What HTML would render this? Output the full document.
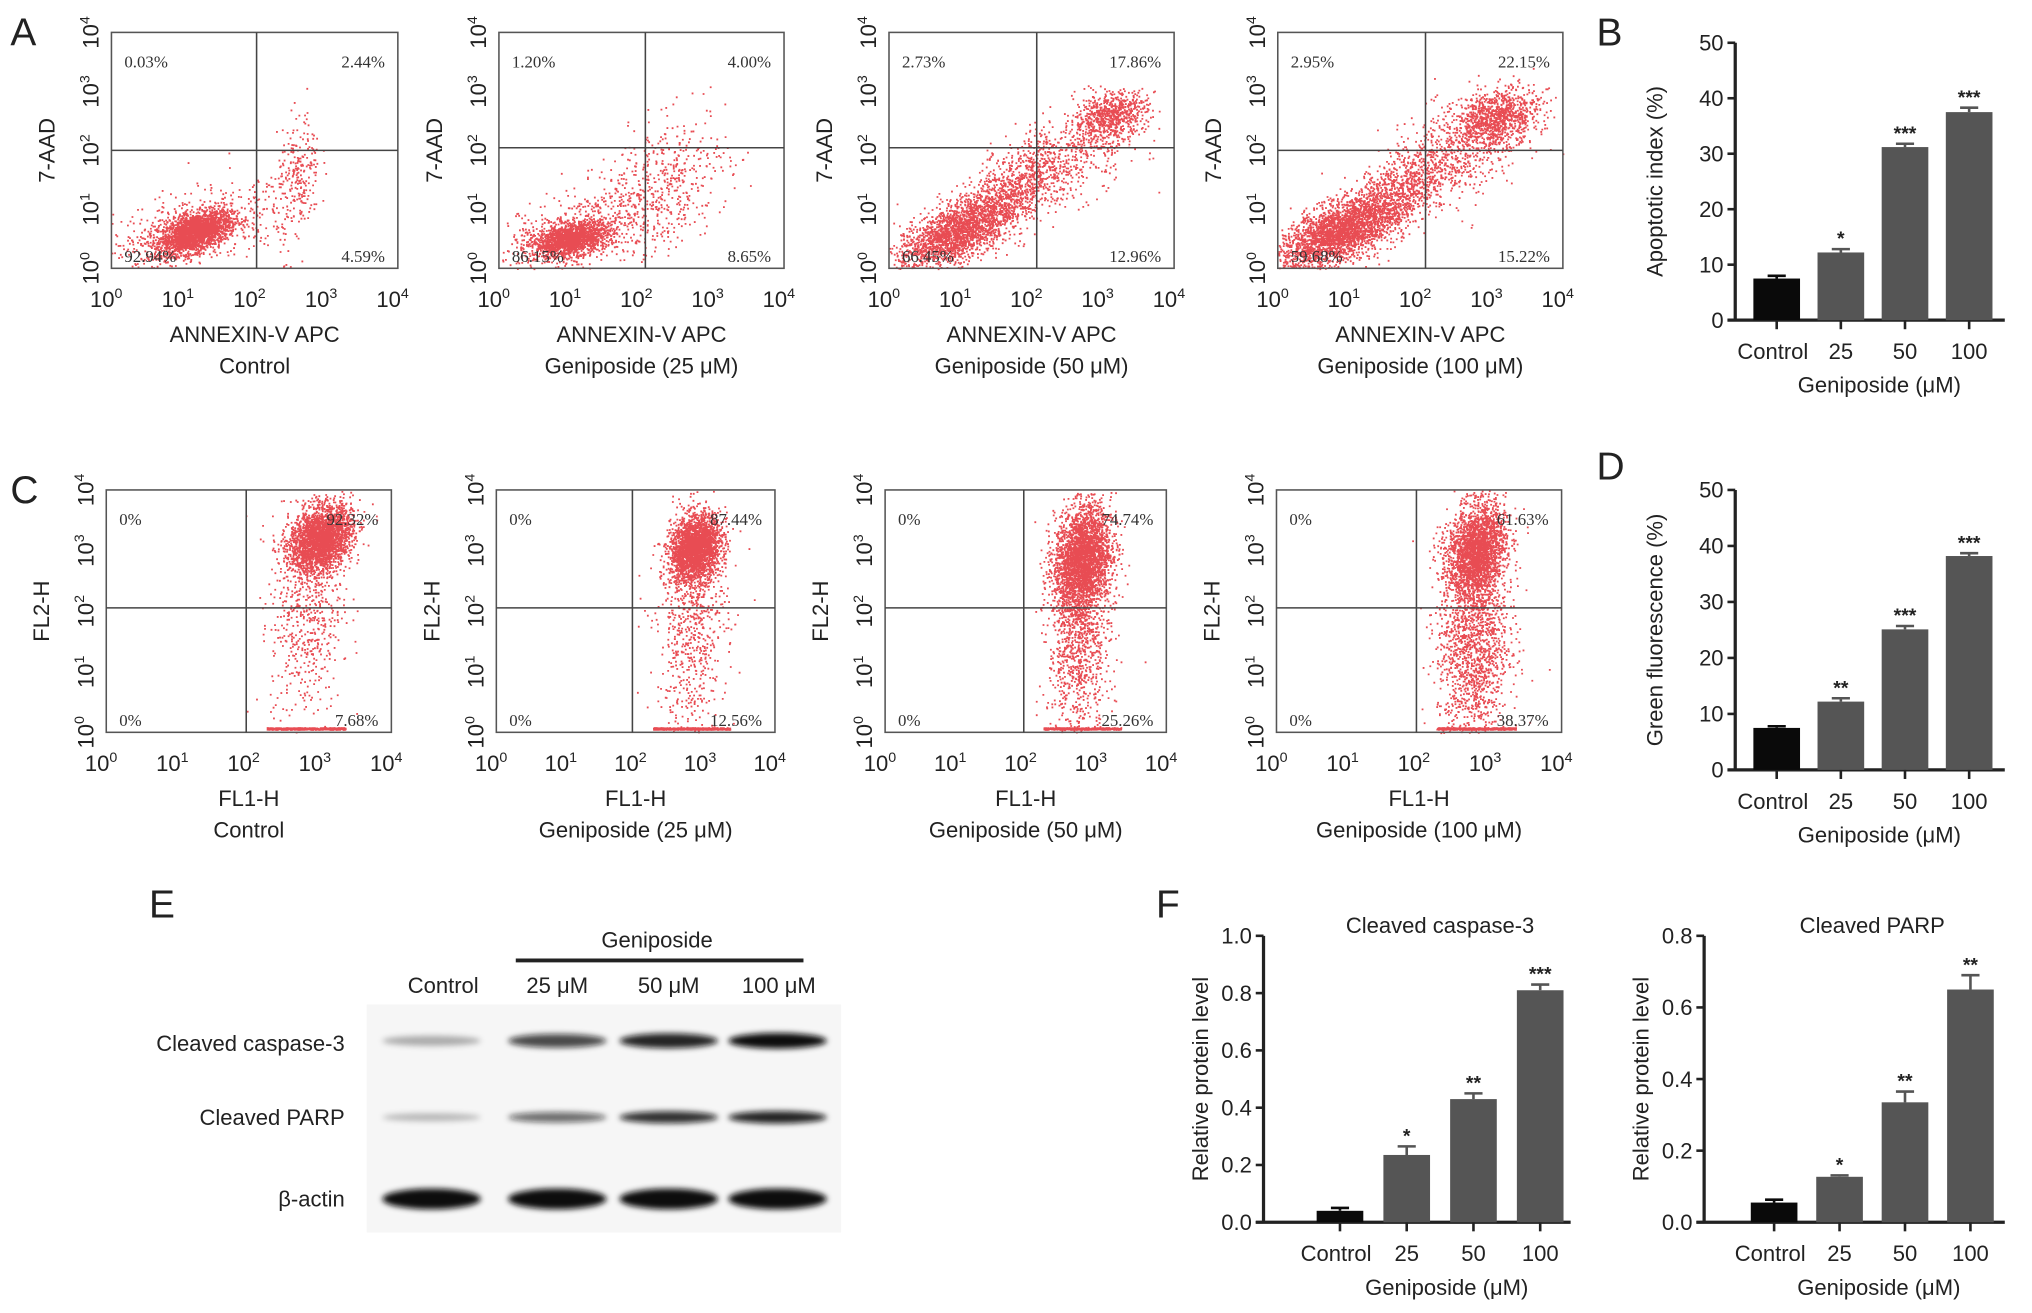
<!DOCTYPE html>
<html><head><meta charset="utf-8">
<style>
html,body{margin:0;padding:0;background:#fff;}
svg{display:block;}
text{font-family:"Liberation Sans",Arial,sans-serif;fill:#222;}
.pct{font-family:"Liberation Serif",serif;font-size:13px;fill:#333;}
</style></head>
<body>
<svg id="fig" width="2032" height="1313" viewBox="0 0 1568 1013" preserveAspectRatio="none" xmlns="http://www.w3.org/2000/svg">
<g id="flow"></g>
<g id="bars"></g>
<g id="blot">
  <text x="115" y="708" font-size="30">E</text>
  <text x="507" y="731" font-size="17" text-anchor="middle">Geniposide</text>
  <line x1="398" y1="741" x2="620" y2="741" stroke="#222" stroke-width="3"/>
  <text x="342" y="766" font-size="17" text-anchor="middle">Control</text>
  <text x="430" y="766" font-size="17" text-anchor="middle">25 μM</text>
  <text x="516" y="766" font-size="17" text-anchor="middle">50 μM</text>
  <text x="601" y="766" font-size="17" text-anchor="middle">100 μM</text>
  <rect x="283" y="775" width="366" height="176" fill="#f6f6f6"/>
  <text x="266" y="811" font-size="17" text-anchor="end">Cleaved caspase-3</text>
  <text x="266" y="868" font-size="17" text-anchor="end">Cleaved PARP</text>
  <text x="266" y="931" font-size="17" text-anchor="end">β-actin</text>
</g>
</svg>
<script>
// ---------- Bar chart data ----------
const categories = ["Control","25","50","100"];
const apoptoticValues = [7.5, 12.2, 31.2, 37.5];
const apoptoticErrors = [0.5, 0.6, 0.6, 0.8];
const apoptoticStars = ["", "*", "***", "***"];
const greenValues = [7.5, 12.2, 25.1, 38.2];
const greenErrors = [0.3, 0.6, 0.6, 0.5];
const greenStars = ["", "**", "***", "***"];
const caspaseValues = [0.04, 0.235, 0.43, 0.81];
const caspaseErrors = [0.01, 0.03, 0.02, 0.02];
const caspaseStars = ["", "*", "**", "***"];
const parpValues = [0.055, 0.127, 0.335, 0.65];
const parpErrors = [0.008, 0.004, 0.03, 0.04];
const parpStars = ["", "*", "**", "**"];
const ticks50 = [0,10,20,30,40,50];
const ticks1 = [0.0,0.2,0.4,0.6,0.8,1.0];
const ticks08 = [0.0,0.2,0.4,0.6,0.8];
// blot band intensities (0-1)
const casp3Bands = [0.3, 0.75, 0.9, 1.0];
const parpBands = [0.25, 0.6, 0.85, 0.9];
const actinBands = [1, 1, 1, 1];

// ---------- Flow data ----------
const flowAPercents = [["0.03%","2.44%","92.94%","4.59%"],["1.20%","4.00%","86.15%","8.65%"],["2.73%","17.86%","66.45%","12.96%"],["2.95%","22.15%","59.68%","15.22%"]];
const flowCPercents = [["0%","92.32%","0%","7.68%"],["0%","87.44%","0%","12.56%"],["0%","74.74%","0%","25.26%"],["0%","61.63%","0%","38.37%"]];
const flowSubtitles = ["Control","Geniposide (25 μM)","Geniposide (50 μM)","Geniposide (100 μM)"];
// clusters: [cx(log), cy(log), sx, sy, n, rho]
const clustersA = [
 [[1.15,0.62,0.25,0.18,2200,0.5],[0.9,0.6,0.45,0.35,400,0.4],[2.6,1.5,0.15,0.55,260,0.3],[1.8,0.9,0.4,0.4,150,0.5]],
 [[1.0,0.5,0.25,0.14,1600,0.4],[0.8,0.5,0.5,0.3,350,0.3],[2.3,1.4,0.45,0.6,500,0.4],[1.5,0.9,0.4,0.4,200,0.5]],
 [[0.9,0.6,0.4,0.3,1800,0.6],[1.6,1.2,0.45,0.45,1000,0.7],[2.5,1.9,0.5,0.45,500,0.5],[3.1,2.6,0.25,0.2,700,0.3]],
 [[0.8,0.6,0.4,0.3,2200,0.6],[1.5,1.1,0.45,0.45,1100,0.7],[2.4,1.9,0.5,0.5,600,0.5],[3.05,2.55,0.3,0.25,1000,0.3]]
];
const clustersC = [
 [[3.0,3.2,0.22,0.27,2600,0.3],[2.8,2.0,0.25,0.9,600,0.1]],
 [[2.85,3.05,0.18,0.27,2500,0.2],[2.8,1.8,0.25,0.9,700,0.1]],
 [[2.8,2.9,0.2,0.42,2700,0.2],[2.75,1.6,0.22,0.9,1200,0.1]],
 [[2.8,3.0,0.2,0.38,2300,0.2],[2.75,1.5,0.25,0.95,1700,0.1]]
];
const framesA = [[86,25,307,207,198,116],[385,25,605,207,498,114],[686,25,906,207,800,114],[986,25,1206,207,1100,116]];
const framesC = [[82,378,302,565,190,469],[383,378,598,565,488,469],[683,378,900,565,790,469],[985,378,1205,565,1093,469]];

const NS="http://www.w3.org/2000/svg";
function mk(tag,attrs,parent){const e=document.createElementNS(NS,tag);for(const k in attrs)e.setAttribute(k,attrs[k]);parent.appendChild(e);return e;}
let seed=12345;function rnd(){seed=(seed*1103515245+12345)&0x7fffffff;return seed/0x7fffffff;}
function gauss(){let u=rnd()||1e-6,v=rnd();return Math.sqrt(-2*Math.log(u))*Math.cos(2*Math.PI*v);}

const flow=document.getElementById('flow');
function flowPlot(fr,clusters,pcts,ylab,xlab,sub,idx,isC){
  const [x0,y0,x1,y1,qx,qy]=fr;
  const g=mk('g',{},flow);
  
  
  const sx=v=>x0+(v/4)*(x1-x0), sy=v=>y1-(v/4)*(y1-y0);
  let d="";
  clusters.forEach(c=>{
    for(let i=0;i<c[4];i++){
      const a=gauss(),b=gauss();
      const lx=c[0]+c[2]*a, ly=c[1]+c[3]*(c[5]*a+Math.sqrt(1-c[5]*c[5])*b);
      if(lx<0||lx>4||ly<0||ly>4)continue;
      d+="M"+sx(lx).toFixed(1)+" "+sy(ly).toFixed(1)+"h1.4v1.4h-1.4z";
    }
  });
  if(isC){ for(let i=0;i<400;i++){const lx=2.25+rnd()*1.1;d+="M"+sx(lx).toFixed(1)+" "+(y1-2.5-rnd()*1.5).toFixed(1)+"h1.4v1.4h-1.4z";} }
  const dots=mk('path',{d:d,fill:'#e0101a','fill-opacity':'0.75'},g);
  
  
  const fr2=mk('rect',{x:x0,y:y0,width:x1-x0,height:y1-y0,fill:'none',stroke:'#555','stroke-width':1.2},g);
  
  
  const ql=mk('path',{d:`M${qx} ${y0}V${y1}M${x0} ${qy}H${x1}`,stroke:'#444','stroke-width':1.2},g);
  
  
  for(let k=0;k<=4;k++){
    const tx=mk('text',{x:sx(k)-4,y:y1+30,'font-size':17,'text-anchor':'middle'},g);
    tx.innerHTML='10<tspan dy="-7" font-size="11">'+k+'</tspan>';
    
    
    const ty=mk('text',{x:0,y:0,'font-size':17,'text-anchor':'middle',transform:`translate(${x0-10},${sy(k)}) rotate(-90)`},g);
    ty.innerHTML='10<tspan dy="-7" font-size="11">'+k+'</tspan>';
    
    
  }
  const yl=mk('text',{x:0,y:0,'font-size':17,'text-anchor':'middle',transform:`translate(${x0-44},${(y0+y1)/2}) rotate(-90)`},g);yl.textContent=ylab;
  
  
  const xl=mk('text',{x:(x0+x1)/2,y:y1+57,'font-size':17,'text-anchor':'middle'},g);xl.textContent=xlab;
  
  
  const st=mk('text',{x:(x0+x1)/2,y:y1+81,'font-size':17,'text-anchor':'middle'},g);st.textContent=sub;
  
  
  const pos=[[x0+10,y0+27,'start'],[x1-10,y0+27,'end'],[x0+10,y1-5,'start'],[x1-10,y1-5,'end']];
  pos.forEach((p,i)=>{const t=mk('text',{x:p[0],y:p[1],class:'pct','text-anchor':p[2]},g);t.textContent=pcts[i];
    
    });
}
framesA.forEach((f,i)=>flowPlot(f,clustersA[i],flowAPercents[i],'7-AAD','ANNEXIN-V APC',flowSubtitles[i],i,false));
framesC.forEach((f,i)=>flowPlot(f,clustersC[i],flowCPercents[i],'FL2-H','FL1-H',flowSubtitles[i],i,true));
[['A',8,35],['C',8,388]].forEach(l=>{const t=mk('text',{x:l[1],y:l[2],'font-size':30},flow);t.textContent=l[0];
  
  });

// ---------- Bar charts ----------
const bars=document.getElementById('bars');
function barChart(o){
  const g=mk('g',{},bars);
  
  
  const y=v=>o.y0-(v/o.max)*(o.y0-o.yTop);
  const ax=mk('path',{d:`M${o.ax} ${o.yTop}V${o.y0}M${o.ax-6} ${o.y0}H${o.axEnd}`,stroke:'#222','stroke-width':2.5,fill:'none'},g);
  
  
  o.ticks.forEach(t=>{
    mk('line',{x1:o.ax-6,x2:o.ax,y1:y(t),y2:y(t),stroke:'#222','stroke-width':2},g);
    const tt=mk('text',{x:o.ax-9,y:y(t)+6,'font-size':17,'text-anchor':'end'},g);tt.textContent=o.fmt(t);
    
    
  });
  categories.forEach((c,i)=>{
    const cx=o.cx0+i*o.step, v=o.vals[i], e=o.errs[i];
    const b=mk('rect',{x:cx-o.bw/2,y:y(v),width:o.bw,height:o.y0-y(v),fill:i==0?'#0a0a0a':'#555'},g);
    
    
    mk('path',{d:`M${cx} ${y(v)}V${y(v+e)}M${cx-7} ${y(v+e)}H${cx+7}`,stroke:i==0?'#0a0a0a':'#555','stroke-width':2},g);
    mk('line',{x1:cx,x2:cx,y1:o.y0,y2:o.y0+7,stroke:'#222','stroke-width':2},g);
    if(o.stars[i]){const s=mk('text',{x:cx,y:y(v+e)-3,'font-size':15,'text-anchor':'middle','font-weight':'bold'},g);s.textContent=o.stars[i];
      
      }
    const l=mk('text',{x:cx+(i==0?-3:0),y:o.y0+30,'font-size':17,'text-anchor':'middle'},g);l.textContent=c;
    
    
  });
  const xt=mk('text',{x:o.cx0+1.6*o.step,y:o.y0+56,'font-size':17,'text-anchor':'middle'},g);xt.textContent='Geniposide (μM)';
  
  
  const yt=mk('text',{x:0,y:0,'font-size':17,'text-anchor':'middle',transform:`translate(${o.ylx},${(o.y0+o.yTop)/2}) rotate(-90)`},g);yt.textContent=o.ylab;
  
  
  if(o.title){const t=mk('text',{x:o.cx0+1.5*o.step,y:o.yTop-2,'font-size':17,'text-anchor':'middle'},g);t.textContent=o.title;
    
    }
}
const f0=v=>String(v), f1=v=>v.toFixed(1);
barChart({name:'apoptotic-index-chart',ax:1339,axEnd:1547,y0:247,yTop:33,max:50,ticks:ticks50,fmt:f0,cx0:1371,step:49.5,bw:36,vals:apoptoticValues,errs:apoptoticErrors,stars:apoptoticStars,ylab:'Apoptotic index (%)',ylx:1283});
barChart({name:'green-fluorescence-chart',ax:1339,axEnd:1547,y0:594,yTop:378,max:50,ticks:ticks50,fmt:f0,cx0:1371,step:49.5,bw:36,vals:greenValues,errs:greenErrors,stars:greenStars,ylab:'Green fluorescence (%)',ylx:1283});
barChart({name:'caspase3-chart',ax:975,axEnd:1212,y0:943,yTop:722,max:1.0,ticks:ticks1,fmt:f1,cx0:1034,step:51.5,bw:36,vals:caspaseValues,errs:caspaseErrors,stars:caspaseStars,ylab:'Relative protein level',ylx:932,title:'Cleaved caspase-3'});
barChart({name:'parp-chart',ax:1315,axEnd:1547,y0:943,yTop:722,max:0.8,ticks:ticks08,fmt:f1,cx0:1369,step:50.5,bw:36,vals:parpValues,errs:parpErrors,stars:parpStars,ylab:'Relative protein level',ylx:1272,title:'Cleaved PARP'});
[['B',1232,35],['D',1232,370],['F',892,708]].forEach(l=>{const t=mk('text',{x:l[1],y:l[2],'font-size':30},bars);t.textContent=l[0];
  
  });

// ---------- Blot bands ----------
const blot=document.getElementById('blot');
const defs=mk('defs',{},blot);
const flt=mk('filter',{id:'blur',x:'-20%',y:'-100%',width:'140%',height:'300%'},defs);
mk('feGaussianBlur',{stdDeviation:'2.2'},flt);
const lanes=[333,430,516,600];
[[casp3Bands,803,6,'caspase3-band'],[parpBands,862,5,'parp-band'],[actinBands,925,8,'actin-band']].forEach(r=>{
  r[0].forEach((v,i)=>{
    const e=mk('ellipse',{cx:lanes[i],cy:r[1],rx:38,ry:r[2]*(0.5+0.5*v),fill:'#111','fill-opacity':v,filter:'url(#blur)'},blot);
    
    
  });
});
</script>
</body></html>
